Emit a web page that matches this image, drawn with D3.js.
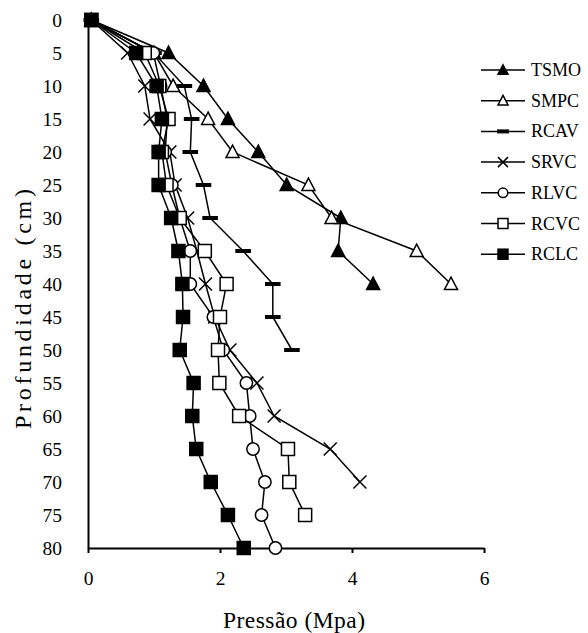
<!DOCTYPE html>
<html><head><meta charset="utf-8">
<script src="https://cdn.jsdelivr.net/npm/d3@7"></script>
<style>body{margin:0;background:#fff}svg{display:block}</style>
</head><body>
<svg id="c" width="588" height="633"></svg>
<script>
const depths = [0,5,10,15,20,25,30,35,40,45,50,55,60,65,70,75,80];
const xTicks = [0,2,4,6];
const seriesNames = ["TSMO","SMPC","RCAV","SRVC","RLVC","RCVC","RCLC"];
const TSMO = [0.05,1.22,1.75,2.12,2.58,3.01,3.83,3.79,4.32];
const SMPC = [0.05,1.00,1.29,1.82,2.19,3.34,3.69,4.98,5.50];
const RCAV = [0.05,1.00,1.46,1.57,1.55,1.75,1.85,2.35,2.80,2.80,3.09];
const SRVC = [0.05,0.60,0.86,0.94,1.24,1.32,1.51,1.65,1.78,1.92,2.15,2.56,2.82,3.67,4.12];
const RLVC = [0.05,0.99,1.10,1.20,1.17,1.27,1.39,1.55,1.55,1.90,2.05,2.40,2.45,2.50,2.68,2.63,2.84];
const RCVC = [0.05,0.86,1.08,1.22,1.12,1.19,1.39,1.77,2.10,2.00,1.97,1.99,2.29,3.03,3.05,3.29];
const RCLC = [0.05,0.73,1.04,1.12,1.07,1.07,1.26,1.37,1.43,1.44,1.39,1.60,1.58,1.64,1.86,2.12,2.36];
const seriesValues = [TSMO,SMPC,RCAV,SRVC,RLVC,RCVC,RCLC];
const markerTypes = ["triFill","triOpen","bar","x","circle","square","squareFill"];

const svg = d3.select("#c");
const x = d3.scaleLinear().domain([0,6]).range([88,484]);
const y = d3.scaleLinear().domain([0,80]).range([20,548]);
const FONT = "'Liberation Serif','Times New Roman',serif";

function drawMarker(g, type, cx, cy, s) {
  const h = s/2;
  if (type === "triFill" || type === "triOpen") {
    g.append("path").attr("d", `M${cx},${cy-h*1.05}L${cx+h},${cy+h*0.85}L${cx-h},${cy+h*0.85}Z`)
      .attr("fill", type==="triFill"?"#000":"#fff").attr("stroke","#000").attr("stroke-width",1.5);
  } else if (type === "square" || type === "squareFill") {
    g.append("rect").attr("x",cx-h).attr("y",cy-h).attr("width",s).attr("height",s)
      .attr("fill", type==="squareFill"?"#000":"#fff").attr("stroke","#000").attr("stroke-width",1.5);
  } else if (type === "circle") {
    g.append("circle").attr("cx",cx).attr("cy",cy).attr("r",h*0.95)
      .attr("fill","#fff").attr("stroke","#000").attr("stroke-width",1.5);
  } else if (type === "x") {
    g.append("path").attr("d",`M${cx-h},${cy-h}L${cx+h},${cy+h}M${cx-h},${cy+h}L${cx+h},${cy-h}`)
      .attr("stroke","#000").attr("stroke-width",1.5).attr("fill","none");
  } else if (type === "bar") {
    g.append("rect").attr("x",cx-s*0.6).attr("y",cy-2).attr("width",s*1.2).attr("height",4).attr("fill","#000");
  }
}

// axes
const yAxis = d3.axisLeft(y).tickValues(depths).tickSize(0).tickPadding(26).tickFormat(d3.format("d"));
const gy = svg.append("g").attr("transform","translate(88,0)").call(yAxis);
gy.select(".domain").attr("stroke","#000").attr("stroke-width",2);
gy.selectAll("text").attr("font-family",FONT).attr("font-size",19.5).attr("fill","#000");

const xAxis = d3.axisBottom(x).tickValues(xTicks).tickSize(5).tickPadding(18).tickSizeOuter(0).tickFormat(d3.format("d"));
const gx = svg.append("g").attr("transform","translate(0,548)").call(xAxis);
gx.select(".domain").attr("stroke","#000").attr("stroke-width",2);
gx.selectAll(".tick line").attr("stroke","#000").attr("stroke-width",2);
gx.selectAll("text").attr("font-family",FONT).attr("font-size",19.5).attr("fill","#000");

// series
const line = d3.line().x(d=>x(d[0])).y(d=>y(d[1]));
seriesValues.forEach((vals,i)=>{
  const pts = vals.map((v,j)=>[v,depths[j]]);
  const g = svg.append("g");
  g.append("path").attr("d",line(pts)).attr("fill","none").attr("stroke","#000").attr("stroke-width",1.5);
  pts.forEach(p=>drawMarker(g, markerTypes[i], x(p[0]), y(p[1]), 13));
});

// titles
svg.append("text").attr("x",294).attr("y",628).attr("text-anchor","middle")
  .attr("font-family",FONT).attr("font-size",23.5).attr("textLength",142).attr("lengthAdjust","spacing")
  .text("Pressão (Mpa)");
svg.append("text").attr("transform","translate(31,309) rotate(-90)").attr("text-anchor","middle")
  .attr("font-family",FONT).attr("font-size",24).attr("textLength",240).attr("lengthAdjust","spacing")
  .text("Profundidade (cm)");

// legend
const lg = svg.append("g");
seriesNames.forEach((n,i)=>{
  const ly = 70 + i*30.7;
  lg.append("line").attr("x1",481).attr("x2",525).attr("y1",ly).attr("y2",ly).attr("stroke","#000").attr("stroke-width",1.5);
  drawMarker(lg, markerTypes[i], 503, ly, 10);
  lg.append("text").attr("x",531).attr("y",ly+6).attr("font-family",FONT).attr("font-size",18).text(n);
});
</script>
</body></html>
